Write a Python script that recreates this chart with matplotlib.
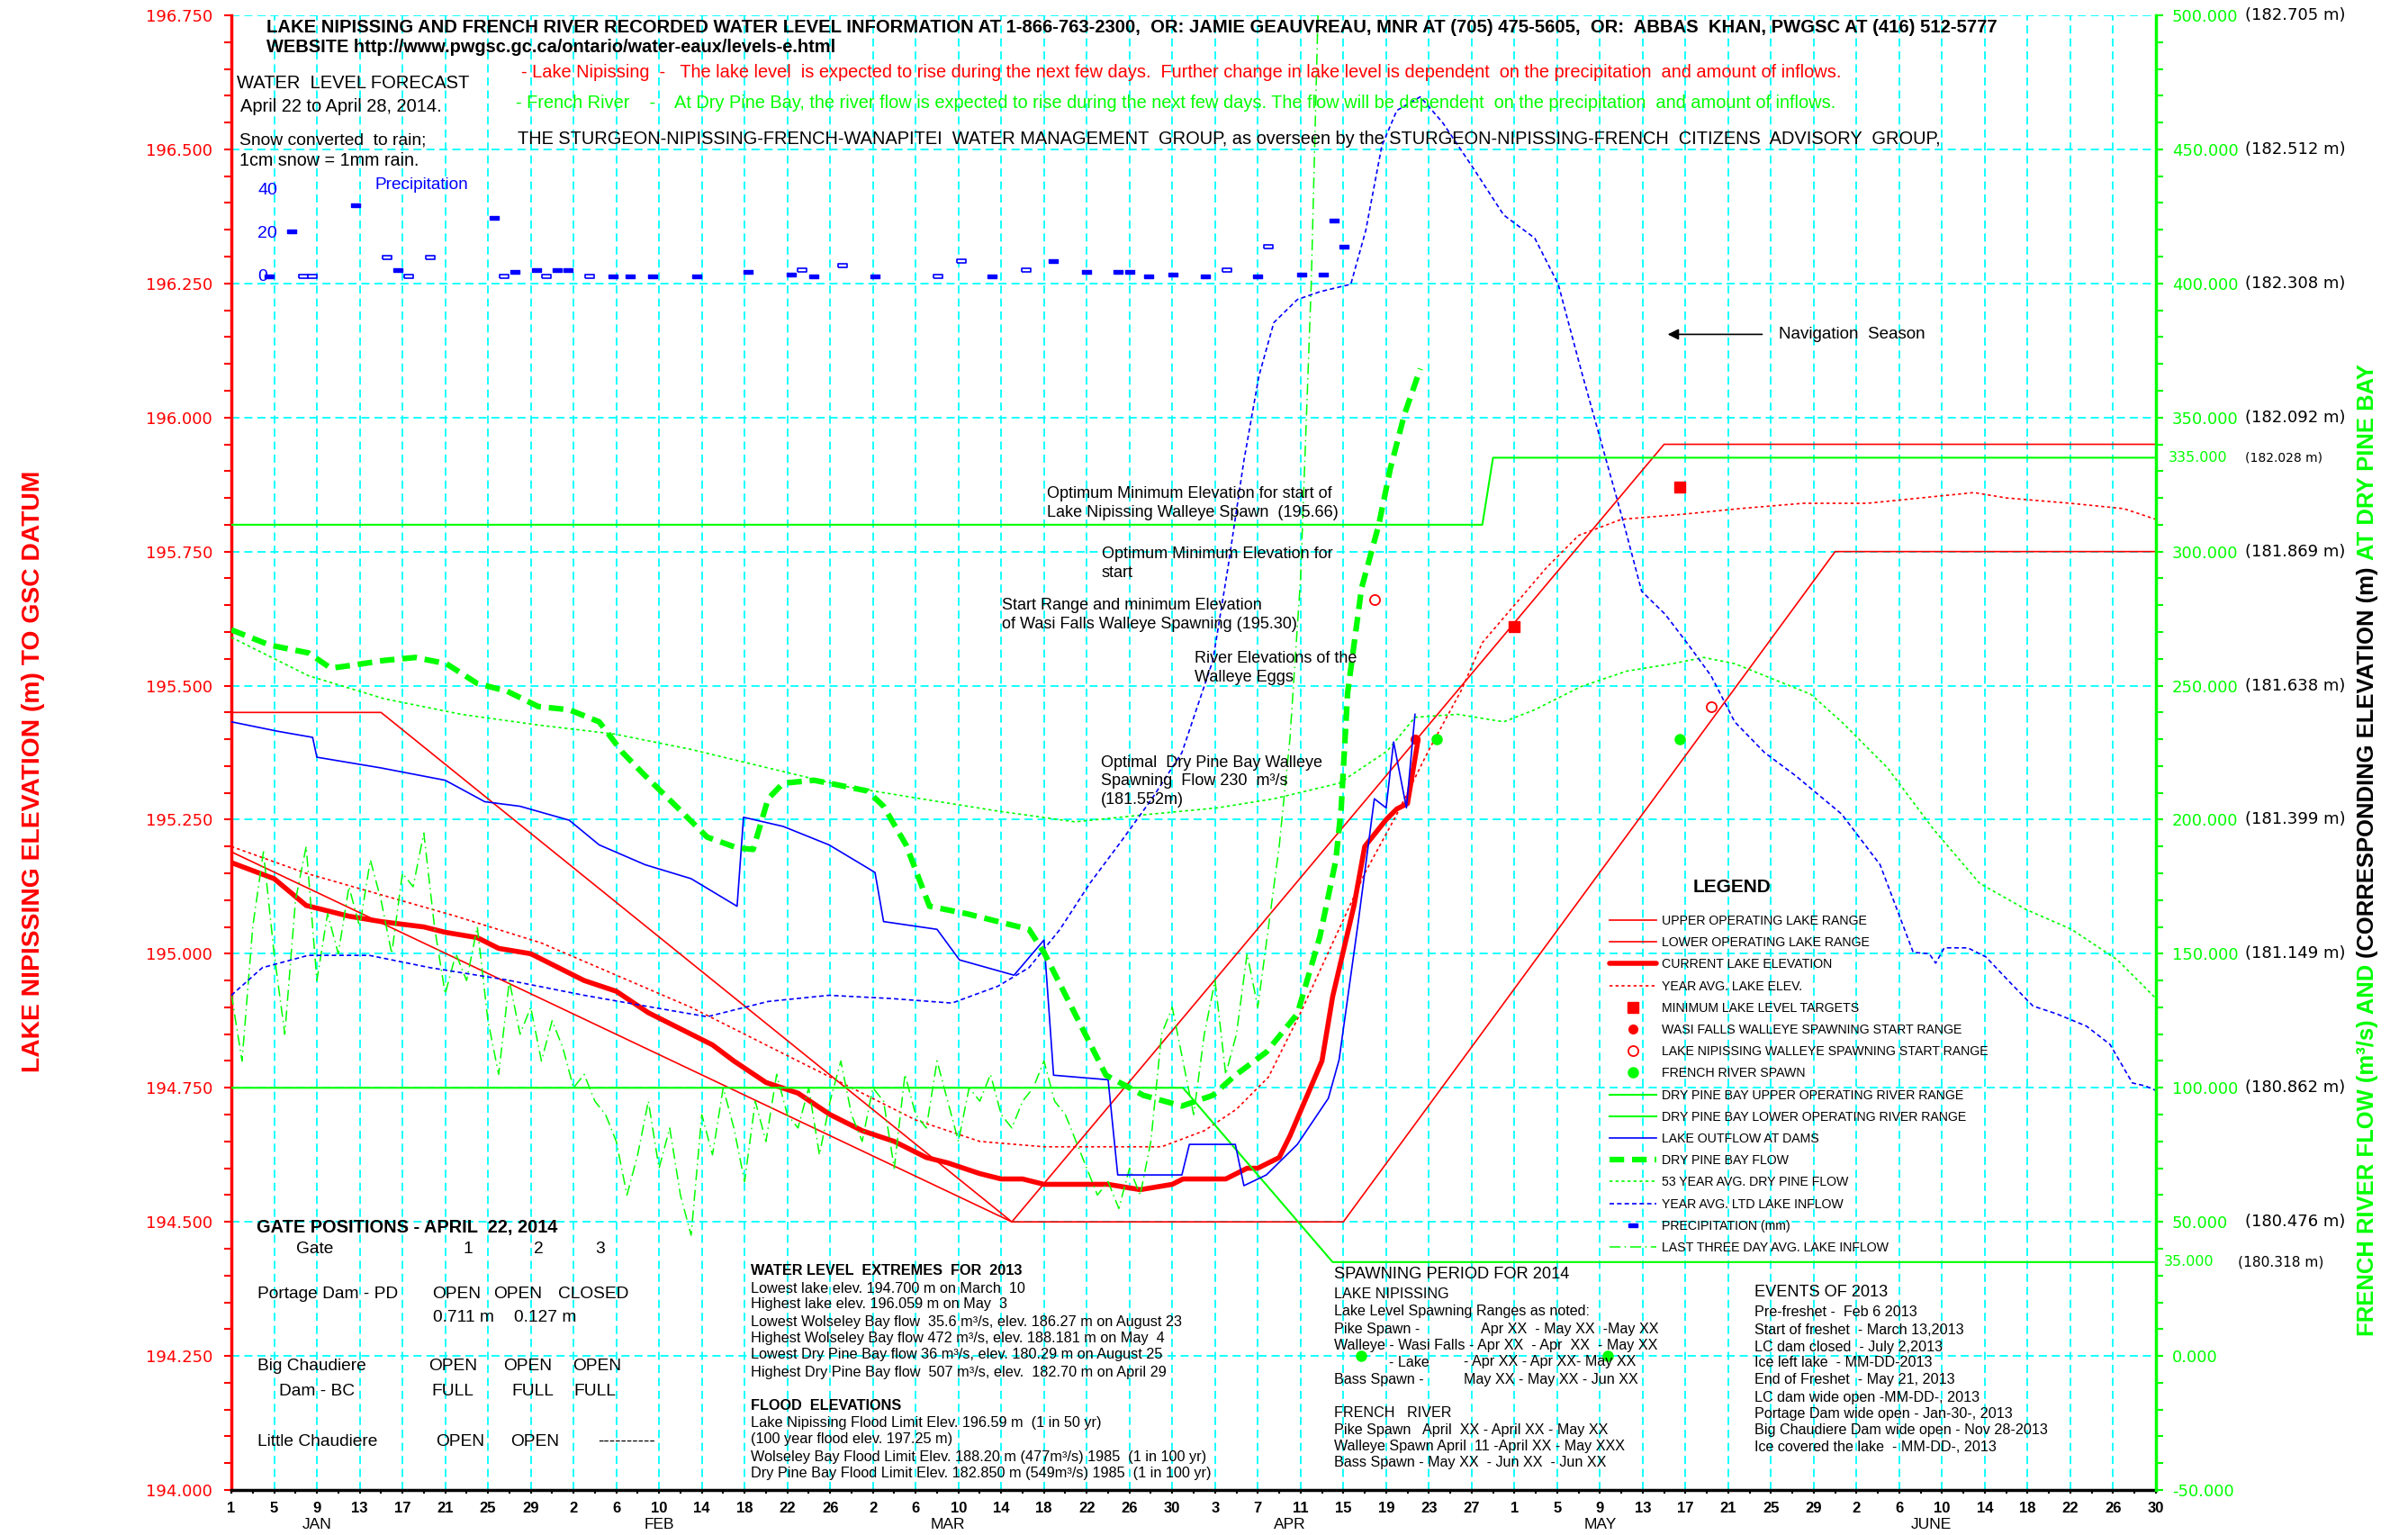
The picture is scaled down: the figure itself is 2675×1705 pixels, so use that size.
import numpy as np
import matplotlib
matplotlib.use('Agg')
import matplotlib.pyplot as plt
import matplotlib.transforms as mtransforms
from matplotlib import font_manager
from matplotlib.ticker import MultipleLocator, FormatStrFormatter

W, H = 2675, 1705
RED, GREEN, BLUE, CYAN = '#FF0000', '#00FF00', '#0000FF', '#00FFFF'


def have_font(name):
    try:
        font_manager.findfont(name, fallback_to_default=False)
        return True
    except ValueError:
        return False


NARROW = 'Liberation Sans Narrow' if have_font('Liberation Sans Narrow') else 'Liberation Sans'
SANS = 'Liberation Sans'
WIDE = 'DejaVu Sans'
plt.rcParams['font.family'] = [SANS, 'DejaVu Sans']

# ---------------- data (x = day of year 2014, Jan 1 = 1) ----------------
month_names = ['JAN', 'FEB', 'MAR', 'APR', 'MAY', 'JUNE']
month_label_day = [9, 41, 68, 100, 129, 160]

upper_lake_doy = [1, 15, 74, 135, 181]
upper_lake_elev = [195.45, 195.45, 194.50, 195.95, 195.95]
lower_lake_doy = [1, 74, 105, 151, 181]
lower_lake_elev = [195.19, 194.50, 194.50, 195.75, 195.75]

cur_doy = [1, 5, 8, 12, 15, 19, 21, 24, 26, 29, 32, 34, 37, 40, 43, 46, 48, 51, 54, 57,
           60, 63, 66, 68, 71, 73, 75, 77, 80, 83, 86, 89, 90, 93, 94, 96, 97, 99, 100,
           103, 104, 106, 107, 109, 110, 111, 112]
cur_elev = [195.17, 195.14, 195.09, 195.07, 195.06, 195.05, 195.04, 195.03, 195.01, 195.00,
            194.97, 194.95, 194.93, 194.89, 194.86, 194.83, 194.80, 194.76, 194.74, 194.70,
            194.67, 194.65, 194.62, 194.61, 194.59, 194.58, 194.58, 194.57, 194.57, 194.57,
            194.56, 194.57, 194.58, 194.58, 194.58, 194.60, 194.60, 194.62, 194.66,
            194.80, 194.92, 195.09, 195.20, 195.25, 195.27, 195.28, 195.40]

avg_lake_doy = [1, 8, 15, 22, 30, 37, 44, 51, 58, 65, 71, 77, 83, 88, 92, 95, 98, 101, 104,
                107, 110, 113, 116, 118, 121, 124, 127, 131, 137, 142, 148, 154, 159, 164,
                167, 173, 178, 181]
avg_lake_elev = [195.20, 195.15, 195.11, 195.07, 195.02, 194.96, 194.90, 194.83, 194.76, 194.69,
                 194.65, 194.64, 194.64, 194.64, 194.67, 194.71, 194.77, 194.89, 195.02, 195.15,
                 195.26, 195.38, 195.49, 195.58, 195.65, 195.72, 195.78, 195.81, 195.82, 195.83,
                 195.84, 195.84, 195.85, 195.86, 195.85, 195.84, 195.83, 195.81]

target_doy = [121, 136.5]
target_elev = [195.61, 195.87]
wasi_doy = [111.7]
wasi_elev = [195.40]
nip_doy = [107.9, 139.4]
nip_elev = [195.66, 195.46]
spawn_doy = [106.7, 113.7, 129.7, 136.5]
spawn_flow = [0, 230, 0, 230]

river_upper_doy = [1, 118, 119, 181]
river_upper_flow = [310, 310, 335, 335]
river_lower_doy = [1, 90, 104, 181]
river_lower_flow = [100, 100, 35, 35]

outflow_doy = [1, 5.3, 8.6, 9, 15, 21, 24.7, 28, 32.6, 35.4, 39.7, 44, 48.3, 48.9, 52.6, 56.9,
               60.5, 61.2, 62, 67, 69.1, 74.2, 77, 77.9, 83, 83.9, 89.9, 90.6, 94.9, 95.7,
               97.8, 100.7, 103.6, 104.6, 106.4, 107.9, 109, 109.7, 110.9, 111.7]
outflow_flow = [236.5, 233.0, 230.7, 223.3, 219.3, 214.7, 206.7, 205.0, 199.8, 190.6, 183.2,
                178.0, 167.7, 200.9, 197.5, 190.6, 182.0, 180.3, 162.0, 159.1, 147.7, 142.0,
                155.1, 104.7, 103.0, 67.5, 67.5, 78.9, 78.9, 63.5, 67.5, 78.9, 96.1, 110.4,
                162.0, 207.8, 204.4, 229.0, 204.4, 239.3]

dpb_doy = [1, 4.6, 8.2, 10.3, 12.5, 15.3, 18.2, 21.1, 24, 26.8, 29.7, 32.6, 35.4, 37.6, 39.7,
           42.6, 45.5, 48.3, 49.8, 51.2, 52.6, 55.5, 58.4, 60.5, 62, 64.1, 66.3, 69.8, 72.7,
           75.6, 77, 79.9, 82.8, 86.3, 89.9, 92.8, 94.9, 97.8, 100.7, 102.8, 104.3, 104.8,
           105.4, 106.7, 108.3, 109.4, 110.7, 112.2]
dpb_flow = [270.8, 265.1, 262.2, 256.5, 257.7, 259.4, 260.5, 258.2, 250.8, 247.9, 242.2, 241.0,
            236.5, 225.0, 216.4, 205.0, 193.5, 189.5, 188.9, 207.8, 213.6, 214.7, 212.4, 210.7,
            205.0, 190.6, 167.7, 164.9, 162.0, 159.1, 150.5, 127.6, 104.7, 97.2, 93.2, 97.2,
            104.7, 113.3, 127.6, 156.3, 184.9, 204.4, 247.3, 286.3, 309.8, 331.0, 351.0, 368.2]

avg53_doy = [1, 8.2, 15.3, 22.5, 29.7, 36.9, 44, 51.2, 58.4, 65.5, 72.7, 79.9, 87.1, 93.2,
             98.5, 104.6, 109.1, 111.7, 115.7, 120, 122.9, 127.2, 131.5, 135.8, 138.7, 141.6,
             144.4, 148.7, 151.6, 155.9, 160.2, 164.5, 168.8, 173.1, 177.4, 181]
avg53_flow = [268.0, 253.7, 245.1, 239.3, 235.3, 231.9, 226.2, 219.3, 212.4, 207.8, 203.2,
              199.2, 202.1, 204.4, 207.8, 213.6, 225.6, 238.2, 239.3, 236.5, 241.0, 249.6,
              255.4, 258.2, 260.5, 258.2, 253.7, 246.8, 236.5, 219.3, 196.4, 176.3, 166.6,
              159.1, 147.7, 133.3]

ltd_doy = [1, 3.9, 8.2, 13.9, 19.6, 26.8, 34, 39.7, 45.5, 51.2, 56.9, 62.7, 68.4, 72.7, 75.6,
           78.5, 81.3, 84.2, 87.1, 89.9, 92.8, 94.2, 95.7, 97.1, 98.5, 100.7, 102.8, 105.7,
           107.1, 108.6, 110, 112.2, 114.3, 117.2, 120, 122.9, 125.1, 127.2, 129.4, 131.2,
           132.9, 135.1, 137.3, 139.4, 141.6, 144.4, 147.3, 151.6, 155.2, 158.3, 159.8, 160.4,
           161.2, 163.4, 165.1, 167.4, 169.5, 171.7, 174.5, 176.7, 178.8, 180, 181]
ltd_flow = [134.5, 144.8, 149.4, 149.4, 144.8, 140.2, 134.5, 130.5, 126.5, 132.2, 134.5, 133.3,
            131.6, 137.9, 144.8, 159.1, 176.3, 191.8, 207.8, 225.0, 259.4, 293.8, 333.9, 365.4,
            385.4, 394.0, 396.9, 399.7, 419.8, 451.3, 464.5, 469.6, 459.9, 442.7, 425.5, 416.9,
            399.7, 368.2, 336.7, 310.9, 285.2, 276.6, 265.1, 253.6, 236.5, 225.0, 216.4, 202.1,
            183.2, 150.5, 150.0, 146.5, 152.2, 152.2, 148.8, 139.1, 130.5, 127.6, 123.0, 116.2,
            101.8, 100.7, 99.0]

inflow3_doy = list(range(1, 104))
inflow3_flow = [135, 110, 160, 188, 150, 120, 170, 190, 140, 165,
                150, 175, 160, 185, 170, 150, 180, 175, 195, 160,
                135, 150, 140, 160, 125, 105, 140, 120, 130, 110, 125,
                115, 100, 105, 95, 90, 80, 60, 75, 95, 70, 85, 60, 45, 90, 75, 100, 85, 65, 95,
                80, 105, 90, 85, 100, 75, 95, 110, 90,
                80, 100, 95, 70, 105, 90, 85, 110, 95, 80, 100, 95, 105, 90, 85, 95, 100, 110,
                95, 90, 80, 70, 60, 65, 55, 70, 60, 80, 120, 130, 110,
                90, 120, 140, 105, 120, 150, 130, 160, 190, 230, 290, 400, 560]

rain_doy = [4.5, 6.6, 12.6, 16.6, 25.6, 27.5, 29.5, 31.5, 32.5, 36.7, 38.3, 40.4, 44.5, 49.3,
            53.4, 55.5, 61.2, 72.1, 77.9, 81, 83.9, 85, 86.8, 89.1, 92.1, 97, 101.1, 103.1,
            104.1, 105.1]
rain_mm = [0, 21, 33, 3, 27, 2, 3, 3, 3, 0, 0, 0, 0, 2, 1, 0, 0, 0, 7, 2, 2, 2, 0, 1, 0, 0,
           1, 1, 26, 14]
snow_doy = [7.7, 8.6, 15.6, 17.6, 19.6, 26.5, 30.5, 34.5, 54.4, 58.2, 67.1, 69.3, 75.3, 94.1, 98]
snow_mm = [0, 0, 9, 0, 9, 0, 0, 0, 3, 5, 0, 7, 3, 3, 14]
precip_ticks = [0, 20, 40]

right_elev_flow = [500, 450, 400, 350, 300, 250, 200, 150, 100, 50]
right_elev_text = ['(182.705 m)', '(182.512 m)', '(182.308 m)', '(182.092 m)', '(181.869 m)',
                   '(181.638 m)', '(181.399 m)', '(181.149 m)', '(180.862 m)', '(180.476 m)']

legend_labels = ['UPPER OPERATING LAKE RANGE', 'LOWER OPERATING LAKE RANGE',
                 'CURRENT LAKE ELEVATION', 'YEAR AVG. LAKE ELEV.', 'MINIMUM LAKE LEVEL TARGETS',
                 'WASI FALLS WALLEYE SPAWNING START RANGE',
                 'LAKE NIPISSING WALLEYE SPAWNING START RANGE', 'FRENCH RIVER SPAWN',
                 'DRY PINE BAY UPPER OPERATING RIVER RANGE',
                 'DRY PINE BAY LOWER OPERATING RIVER RANGE', 'LAKE OUTFLOW AT DAMS',
                 'DRY PINE BAY FLOW', '53 YEAR AVG. DRY PINE FLOW', 'YEAR AVG. LTD LAKE INFLOW',
                 'PRECIPITATION (mm)', 'LAST THREE DAY AVG. LAKE INFLOW']

# ---------------- figure ----------------
fig = plt.figure(figsize=(W / 100, H / 100), dpi=100)
L, R, T, B = 257, 2395, 17, 1655
ax = fig.add_axes([L / W, 1 - B / H, (R - L) / W, (B - T) / H])
ax2 = ax.twinx()
ax3 = ax.twinx()
renderer = fig.canvas.get_renderer()


def P(x, y):
    return x / W, 1 - y / H


def fit(t, width, vertical=False):
    bb = t.get_window_extent(renderer)
    w = bb.height if vertical else bb.width
    t.set_fontsize(t.get_fontsize() * width / w)
    return t.get_fontsize()


ax.set_xlim(1, 181)
ax.set_ylim(194.0, 196.75)
ax2.set_ylim(-50, 500)
ax3.set_ylim(-562, 121)
ax3.set_axis_off()

xt = np.arange(1, 182, 4)
days = (np.datetime64('2014-01-01') + (xt - 1)).astype(object)
ax.set_xticks(xt)
ax.set_xticklabels([str(d.day) for d in days])
ax.set_xticks(np.arange(3, 182, 4), minor=True)
ax.yaxis.set_major_locator(MultipleLocator(0.25))
ax.yaxis.set_minor_locator(MultipleLocator(0.05))
ax.yaxis.set_major_formatter(FormatStrFormatter('%.3f'))
ax2.yaxis.set_major_locator(MultipleLocator(50))
ax2.yaxis.set_minor_locator(MultipleLocator(10))
ax2.yaxis.set_major_formatter(FormatStrFormatter('%.3f'))

ax.grid(True, which='major', color=CYAN, ls=(0, (5, 3)), lw=1.3)
ax.tick_params(axis='y', which='both', direction='out', length=6, width=1.5,
               colors=RED, labelsize=13, pad=9, labelfontfamily=WIDE)
ax.tick_params(axis='x', which='both', direction='out', length=3, width=1.5,
               colors='black', labelsize=12, pad=6, labelfontfamily=NARROW)
ax2.tick_params(axis='y', which='both', direction='out', length=6, width=1.5,
                colors=GREEN, labelsize=13, pad=7, labelfontfamily=WIDE)
for lab in ax.get_xticklabels():
    lab.set_fontweight('bold')

for s in ('top', 'right'):
    ax.spines[s].set_visible(False)
ax.spines['left'].set_color(RED)
ax.spines['left'].set_linewidth(2.5)
ax.spines['bottom'].set_color('black')
ax.spines['bottom'].set_linewidth(2.5)
for s in ('top', 'left', 'bottom'):
    ax2.spines[s].set_visible(False)
ax2.spines['right'].set_color(GREEN)
ax2.spines['right'].set_linewidth(2.5)

xmonth = mtransforms.blended_transform_factory(ax.transData, ax.transAxes)
for name, d in zip(month_names, month_label_day):
    ax.text(d, -0.0232, name, transform=xmonth, ha='center', va='center',
            fontsize=12.5, family=NARROW)

# lake elevation series
h_up, = ax.plot(upper_lake_doy, upper_lake_elev, color=RED, lw=1.2)
h_lo, = ax.plot(lower_lake_doy, lower_lake_elev, color=RED, lw=1.2)
h_avg, = ax.plot(avg_lake_doy, avg_lake_elev, color=RED, lw=1.2, ls=(0, (2, 2)))
h_cur, = ax.plot(cur_doy, cur_elev, color=RED, lw=4.0, solid_capstyle='round')
h_tgt, = ax.plot(target_doy, target_elev, 's', color=RED, ms=8, ls='none')
h_wasi, = ax.plot(wasi_doy, wasi_elev, 'o', color=RED, ms=7, ls='none')
h_nip, = ax.plot(nip_doy, nip_elev, 'o', mfc='white', mec=RED, mew=1.3, ms=8, ls='none')

# river / flow series
h_ru, = ax2.plot(river_upper_doy, river_upper_flow, color=GREEN, lw=1.5)
h_rl, = ax2.plot(river_lower_doy, river_lower_flow, color=GREEN, lw=1.5)
h_in3, = ax2.plot(inflow3_doy, inflow3_flow, color=GREEN, lw=1.1, ls=(0, (8, 3, 1, 3)))
h_a53, = ax2.plot(avg53_doy, avg53_flow, color=GREEN, lw=1.2, ls=(0, (2, 2)))
h_ltd, = ax2.plot(ltd_doy, ltd_flow, color=BLUE, lw=1.2, ls=(0, (3, 2)))
h_out, = ax2.plot(outflow_doy, outflow_flow, color=BLUE, lw=1.2)
h_dpb, = ax2.plot(dpb_doy, dpb_flow, color=GREEN, lw=4.5, ls=(0, (2.6, 1.4)))
h_spn, = ax2.plot(spawn_doy, spawn_flow, 'o', color=GREEN, ms=8, ls='none')

# precipitation
rect = [(-1, -0.5), (1, -0.5), (1, 0.5), (-1, 0.5), (-1, -0.5)]
h_pr, = ax3.plot(rain_doy, rain_mm, ls='none', marker=rect, ms=7, color=BLUE)
ax3.plot(snow_doy, snow_mm, ls='none', marker=rect, ms=7, mfc='white', mec=BLUE, mew=1.2)
ptrans = mtransforms.blended_transform_factory(ax3.transAxes, ax3.transData)
for v in precip_ticks:
    ax3.text(0.0136, v, str(v), transform=ptrans, ha='left', va='center', color=BLUE, fontsize=14)
t = fig.text(*P(417, 206), 'Precipitation', color=BLUE, va='center', fontsize=14)
fit(t, 105)

# right side elevation labels
rtrans = mtransforms.blended_transform_factory(ax2.transAxes, ax2.transData)
for f, s in zip(right_elev_flow, right_elev_text):
    ax2.text(1.0463, f, s, transform=rtrans, va='center', ha='left', fontsize=13, family=WIDE)
ax2.text(1.0066, 335, '335.000', transform=rtrans, va='center', color=GREEN, fontsize=11.5,
         family=WIDE)
ax2.text(1.0463, 335, '(182.028 m)', transform=rtrans, va='center', fontsize=10, family=WIDE)
ax2.text(1.0042, 35, '35.000', transform=rtrans, va='center', color=GREEN, fontsize=11.5,
         family=WIDE)
ax2.text(1.0426, 35, '(180.318 m)', transform=rtrans, va='center', fontsize=11.2, family=WIDE)

# axis titles
t = fig.text(*P(37, 857), 'LAKE NIPISSING ELEVATION (m) TO GSC DATUM', rotation=90,
             ha='center', va='center', color=RED, fontweight='bold', family=NARROW, fontsize=20)
fit(t, 669, vertical=True)
pieces = [('FRENCH RIVER FLOW (m³/s) AND ', GREEN), ('(CORRESPONDING ELEVATION (m) ', 'black'),
          ('AT DRY PINE BAY', GREEN)]
probe = fig.text(0, 0, ''.join(p for p, _ in pieces), rotation=90, fontweight='bold',
                 family=NARROW, fontsize=20)
fs_r = fit(probe, 1078, vertical=True)
probe.remove()
ypos = 1484
for s, c in pieces:
    t = fig.text(*P(2630, ypos), s, rotation=90, rotation_mode='anchor', ha='left', va='center',
                 color=c, fontweight='bold', family=NARROW, fontsize=fs_r)
    ypos -= t.get_window_extent(renderer).height

# header
hdr = [((296, 30), 'LAKE NIPISSING AND FRENCH RIVER RECORDED WATER LEVEL INFORMATION AT 1-866-763-2300,  '
        'OR: JAMIE GEAUVREAU, MNR AT (705) 475-5605,  OR:  ABBAS  KHAN, PWGSC AT (416) 512-5777',
        'black', 'bold', 1927),
       ((296, 53), 'WEBSITE http://www.pwgsc.gc.ca/ontario/water-eaux/levels-e.html', 'black', 'bold', 635),
       ((579, 80), '- Lake Nipissing  -   The lake level  is expected to rise during the next few days.  '
        'Further change in lake level is dependent  on the precipitation  and amount of inflows.',
        RED, 'normal', 1475),
       ((573, 115), '- French River    -    At Dry Pine Bay, the river flow is expected to rise during the '
        'next few days. The flow will be dependent  on the precipitation  and amount of inflows.',
        GREEN, 'normal', 1478),
       ((575, 154), 'THE STURGEON-NIPISSING-FRENCH-WANAPITEI  WATER MANAGEMENT  GROUP, as overseen by the '
        'STURGEON-NIPISSING-FRENCH  CITIZENS  ADVISORY  GROUP,', 'black', 'normal', 1584)]
for (x, y), s, c, wgt, wd in hdr:
    t = fig.text(*P(x, y), s, color=c, fontweight=wgt, family=NARROW, va='center', fontsize=14)
    fit(t, wd)

for (x, y), s, wd in [((263, 93), 'WATER  LEVEL FORECAST', 260),
                      ((267, 118), 'April 22 to April 28, 2014.', 225),
                      ((266, 156), 'Snow converted  to rain;', 209),
                      ((266, 179), '1cm snow = 1mm rain.', 200)]:
    t = fig.text(*P(x, y), s, va='center', fontsize=14)
    fit(t, wd)

# annotations in plot
notes = [((1163, 559), 'Optimum Minimum Elevation for start of\nLake Nipissing Walleye Spawn  (195.66)'),
         ((1224, 626), 'Optimum Minimum Elevation for\nstart'),
         ((1113, 683), 'Start Range and minimum Elevation\nof Wasi Falls Walleye Spawning (195.30)'),
         ((1327, 742), 'River Elevations of the\nWalleye Eggs'),
         ((1223, 868), 'Optimal  Dry Pine Bay Walleye\nSpawning  Flow 230  m³/s\n(181.552m)')]
for (x, y), s in notes:
    fig.text(*P(x, y), s, va='center', ha='left', fontsize=13, linespacing=1.25)

ax.annotate('', xy=(135.1, 196.155), xytext=(144.4, 196.155),
            arrowprops=dict(arrowstyle='-|>', color='black', lw=1.2, mutation_scale=18))
ax.text(145.7, 196.155, 'Navigation  Season', va='center', fontsize=13.5)

# legend
fig.text(*P(1924, 986), 'LEGEND', ha='center', va='center', fontweight='bold', fontsize=15)
handles = [h_up, h_lo, h_cur, h_avg, h_tgt, h_wasi, h_nip, h_spn, h_ru, h_rl, h_out, h_dpb,
           h_a53, h_ltd, h_pr, h_in3]
fig.legend(handles, legend_labels, loc='upper left', bbox_to_anchor=P(1788, 1016),
           frameon=False, borderpad=0, borderaxespad=0, handlelength=3.7, handletextpad=0.4,
           labelspacing=0.72, numpoints=1, prop={'family': NARROW, 'size': 10.2})

# gate positions
gfs = 13.8
t = fig.text(*P(285, 1363), 'GATE POSITIONS - APRIL  22, 2014', va='center', fontweight='bold',
             fontsize=gfs)
fit(t, 333)
gate_rows = [(329, 1387, 'Gate'), (514, 1387, '1'), (593, 1387, '2'), (661, 1387, '3'),
             (286, 1437, 'Portage Dam - PD'), (480, 1437, 'OPEN'), (548, 1437, 'OPEN'),
             (620, 1437, 'CLOSED'), (481, 1463, '0.711 m'), (571, 1463, '0.127 m'),
             (286, 1518, 'Big Chaudiere'), (476, 1518, 'OPEN'), (559, 1518, 'OPEN'),
             (636, 1518, 'OPEN'), (310, 1546, 'Dam - BC'), (479, 1546, 'FULL'),
             (568, 1546, 'FULL'), (637, 1546, 'FULL'), (286, 1601, 'Little Chaudiere'),
             (484, 1601, 'OPEN'), (567, 1601, 'OPEN'), (664, 1601, '----------')]
for x, y, s in gate_rows:
    fig.text(*P(x, y), s, va='center', fontsize=gfs)


def block(x, ys, lines, ref, width, bold=(), skip=()):
    t = fig.text(*P(x, ys[ref]), lines[ref], va='center', family=NARROW, fontsize=12)
    fs = fit(t, width)
    for i, (s, y) in enumerate(zip(lines, ys)):
        if i != ref and i not in skip:
            fig.text(*P(x, y), s, va='center', family=NARROW, fontsize=fs,
                     fontweight='bold' if i in bold else 'normal')
    return fs


ext_lines = ['WATER LEVEL  EXTREMES  FOR  2013',
             'Lowest lake elev. 194.700 m on March  10',
             'Highest lake elev. 196.059 m on May  3',
             'Lowest Wolseley Bay flow  35.6 m³/s, elev. 186.27 m on August 23',
             'Highest Wolseley Bay flow 472 m³/s, elev. 188.181 m on May  4',
             'Lowest Dry Pine Bay flow 36 m³/s, elev. 180.29 m on August 25',
             'Highest Dry Pine Bay flow  507 m³/s, elev.  182.70 m on April 29',
             'FLOOD  ELEVATIONS',
             'Lake Nipissing Flood Limit Elev. 196.59 m  (1 in 50 yr)',
             '(100 year flood elev. 197.25 m)',
             'Wolseley Bay Flood Limit Elev. 188.20 m (477m³/s) 1985  (1 in 100 yr)',
             'Dry Pine Bay Flood Limit Elev. 182.850 m (549m³/s) 1985  (1 in 100 yr)']
ext_y = [1411, 1431, 1449, 1468, 1487, 1505, 1524, 1561, 1580, 1599, 1618, 1636]
block(834, ext_y, ext_lines, 3, 480, bold=(0, 7))

sp_lines = ['SPAWNING PERIOD FOR 2014', 'LAKE NIPISSING', 'Lake Level Spawning Ranges as noted:',
            'Pike Spawn -', 'Walleye - Wasi Falls - Apr XX  - Apr  XX  - May XX', '',
            'Bass Spawn -', 'FRENCH   RIVER', 'Pike Spawn   April  XX - April XX - May XX',
            'Walleye Spawn April  11 -April XX - May XXX', 'Bass Spawn - May XX  - Jun XX  - Jun XX']
sp_y = [1416, 1438, 1457, 1476, 1495, 1513, 1532, 1569, 1588, 1607, 1625]
sfs = block(1482, sp_y, sp_lines, 2, 285, skip=(0,))
t = fig.text(*P(1482, sp_y[0]), sp_lines[0], va='center', fontsize=13)
fit(t, 261)
for x, y, s in [(1645, 1476, 'Apr XX  - May XX  -May XX'), (1543, 1513, '- Lake'),
                (1626, 1513, '- Apr XX - Apr XX- May XX'), (1626, 1532, 'May XX - May XX - Jun XX')]:
    fig.text(*P(x, y), s, va='center', family=NARROW, fontsize=sfs)

ev_lines = ['EVENTS OF 2013', 'Pre-freshet -  Feb 6 2013', 'Start of freshet  - March 13,2013',
            'LC dam closed  - July 2,2013', 'Ice left lake  - MM-DD-2013',
            'End of Freshet  - May 21, 2013', 'LC dam wide open -MM-DD-, 2013',
            'Portage Dam wide open - Jan-30-, 2013', 'Big Chaudiere Dam wide open - Nov 28-2013',
            'Ice covered the lake  - MM-DD-, 2013']
ev_y = [1436, 1458, 1477, 1496, 1514, 1533, 1552, 1571, 1589, 1607]
block(1949, ev_y, ev_lines, 8, 327, skip=(0,))
t = fig.text(*P(1949, ev_y[0]), ev_lines[0], va='center', fontsize=13)
fit(t, 148)

fig.savefig('out.png', dpi=100)
